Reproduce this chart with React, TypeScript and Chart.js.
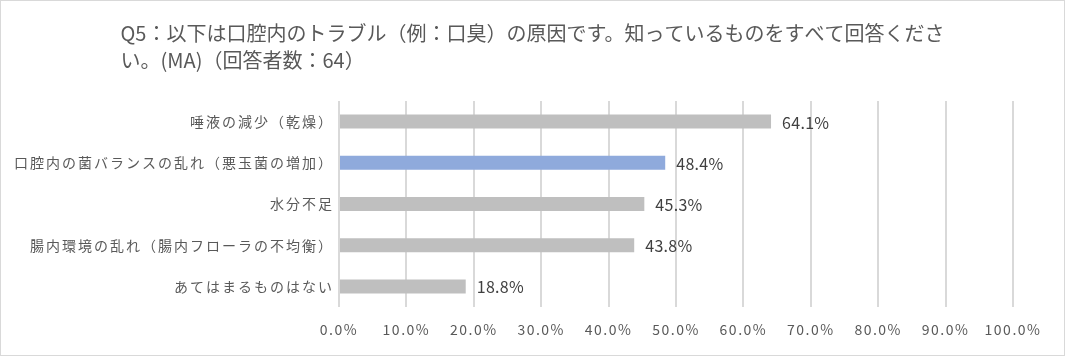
import React, { useEffect, useRef } from "react";
import { Chart, registerables } from "chart.js";

Chart.register(...registerables);

const titleLines = [
  "Q5：以下は口腔内のトラブル（例：口臭）の原因です。知っているものをすべて回答くださ",
  "い。(MA)（回答者数：64）",
];
const categories = [
  "唾液の減少（乾燥）",
  "口腔内の菌バランスの乱れ（悪玉菌の増加）",
  "水分不足",
  "腸内環境の乱れ（腸内フローラの不均衡）",
  "あてはまるものはない",
];
const values = [64.1, 48.4, 45.3, 43.8, 18.8];
const barColors = ["#BFBFBF", "#8FAADC", "#BFBFBF", "#BFBFBF", "#BFBFBF"];
const xTicks = [0, 10, 20, 30, 40, 50, 60, 70, 80, 90, 100];

const FONT = "'Noto Sans CJK JP', 'Noto Sans', sans-serif";
const SPACING: Record<string, string> = { x: "1.5px", y: "2px" };

export default function App() {
  const ref = useRef<HTMLCanvasElement>(null);
  useEffect(() => {
    document.body.style.margin = "0";
    const canvas = ref.current!;
    const spacingPlugin = {
      id: "spacing",
      beforeDraw(chart: any) {
        Object.keys(SPACING).forEach((id) => {
          const scale = chart.scales[id];
          if (scale && !scale.__patched) {
            const orig = scale.drawLabels.bind(scale);
            scale.drawLabels = (area: any) => {
              const ctx = chart.ctx;
              const prev = ctx.letterSpacing;
              ctx.letterSpacing = SPACING[id];
              orig(area);
              ctx.letterSpacing = prev;
            };
            scale.__patched = true;
          }
        });
      },
    };
    const titlePlugin = {
      id: "leftTitle",
      afterDraw(chart: any) {
        const ctx = chart.ctx;
        ctx.save();
        ctx.letterSpacing = "0px";
        ctx.font = `20px ${FONT}`;
        ctx.fillStyle = "#595959";
        ctx.textBaseline = "middle";
        ctx.textAlign = "left";
        const w = ctx.measureText(titleLines[0]).width;
        const x = (chart.width - w) / 2;
        titleLines.forEach((t, i) => ctx.fillText(t, x, 33 + i * 27));
        ctx.restore();
      },
    };
    const labelPlugin = {
      id: "barLabels",
      afterDatasetsDraw(chart: any) {
        const ctx = chart.ctx;
        const meta = chart.getDatasetMeta(0);
        ctx.save();
        ctx.letterSpacing = "0.3px";
        ctx.font = `16px ${FONT}`;
        ctx.fillStyle = "#404040";
        ctx.textBaseline = "middle";
        ctx.textAlign = "left";
        meta.data.forEach((bar: any, i: number) => {
          ctx.fillText(values[i].toFixed(1) + "%", bar.x + 11, bar.y + 1);
        });
        ctx.restore();
      },
    };
    const borderPlugin = {
      id: "outerBorder",
      afterDraw(chart: any) {
        const ctx = chart.ctx;
        ctx.save();
        ctx.strokeStyle = "#D9D9D9";
        ctx.lineWidth = 1;
        ctx.strokeRect(0.5, 0.5, chart.width - 1, chart.height - 1);
        ctx.restore();
      },
    };
    const chart = new Chart(canvas, {
      type: "bar",
      data: {
        labels: categories,
        datasets: [
          {
            data: values,
            backgroundColor: barColors,
            barPercentage: 0.34,
            categoryPercentage: 1,
          },
        ],
      },
      options: {
        indexAxis: "y",
        animation: false,
        responsive: false,
        maintainAspectRatio: false,
        layout: { padding: { top: 101, right: 52, bottom: 8, left: 0 } },
        plugins: {
          legend: { display: false },
          title: { display: false },
          tooltip: { enabled: false },
        },
        scales: {
          x: {
            min: 0,
            max: 100,
            afterBuildTicks(scale: any) {
              scale.ticks = xTicks.map((v) => ({ value: v }));
            },
            afterFit(scale: any) {
              scale.height = 41;
            },
            grid: { color: "#D9D9D9", lineWidth: 2, drawTicks: false },
            border: { display: false },
            ticks: {
              padding: 14,
              color: "#595959",
              font: { family: FONT, size: 14 },
              callback: (v: any) => Number(v).toFixed(1) + "%",
            },
          },
          y: {
            afterFit(scale: any) {
              scale.width = 339;
            },
            grid: { display: false, drawTicks: false },
            border: { display: false },
            ticks: {
              padding: 5,
              color: "#595959",
              font: { family: FONT, size: 14 },
            },
          },
        },
      },
      plugins: [spacingPlugin, titlePlugin, labelPlugin, borderPlugin],
    });
    return () => chart.destroy();
  }, []);
  return (
    <div style={{ width: 1065, height: 356 }}>
      <canvas ref={ref} width={1065} height={356} style={{ display: "block" }} />
    </div>
  );
}
